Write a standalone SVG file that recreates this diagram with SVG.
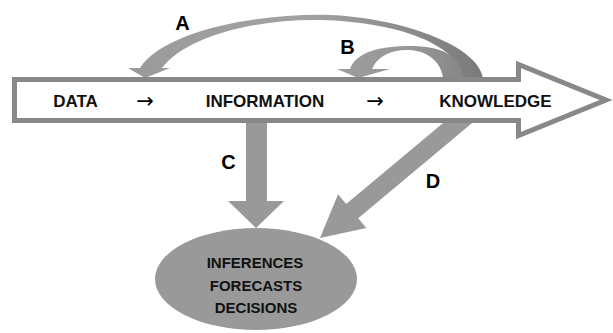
<svg xmlns="http://www.w3.org/2000/svg" width="613" height="333" viewBox="0 0 613 333">
  <style>
    .flow-text { font-family: "Liberation Sans", Arial, sans-serif; font-weight: bold; font-size: 17px; fill: #111; text-anchor: middle; }
    .step { font-family: "DejaVu Sans", sans-serif; font-size: 21px; fill: #000; text-anchor: middle; }
    .out-text { font-family: "Liberation Sans", Arial, sans-serif; font-weight: bold; font-size: 15px; fill: #111; text-anchor: middle; }
    .label { font-family: "Liberation Sans", Arial, sans-serif; font-weight: bold; font-size: 20px; fill: #000; text-anchor: middle; }
    .band { fill: #999999; }
  </style>
  <defs>
    <linearGradient id="shadeA" gradientUnits="userSpaceOnUse" x1="128" y1="0" x2="484" y2="0">
      <stop offset="0" stop-color="#9a9a9a"/>
      <stop offset="0.5" stop-color="#a2a2a2"/>
      <stop offset="0.78" stop-color="#8c8c8c"/>
      <stop offset="1" stop-color="#7a7a7a"/>
    </linearGradient>
    <linearGradient id="shadeB" gradientUnits="userSpaceOnUse" x1="337" y1="0" x2="464" y2="0">
      <stop offset="0" stop-color="#9c9c9c"/>
      <stop offset="0.55" stop-color="#989898"/>
      <stop offset="1" stop-color="#868686"/>
    </linearGradient>
  </defs>

  <!-- connectors: feedback loops A, B and outputs C, D -->
  <g id="connectors">
    <path id="loop-a" fill="url(#shadeA)" d="M140,68 C165,30 260,13 330,15 C400,18 478,45 483,78 L463,78 C458,45 400,22 320,20 C250,19 185,38 162,68 L170,68 L145,78 L128,68 Z"/>
    <path id="loop-b" fill="url(#shadeB)" d="M350,69 C356,52 380,46 410,46 C440,46 462,55 463,78 L443,78 C441,60 425,50 407,50 C390,50 377,57 372,69 L390,69 L358,78 L337,69 Z"/>
    <polygon id="out-c" class="band" points="246,115 267,115 267,201 284,201 256,228 228,201 246,201"/>
    <polygon id="out-d" class="band" points="452.7,115 481.7,115 358.2,218.2 366.3,228 320,238 338.1,194.2 346.2,204"/>
    <text class="label" x="182.5" y="30">A</text>
    <text class="label" x="347.5" y="54">B</text>
    <text class="label" x="228.5" y="169">C</text>
    <text class="label" x="433" y="188">D</text>
  </g>

  <!-- main flow arrow -->
  <g id="flow">
    <polygon points="14.5,79.5 518.5,79.5 518.5,64.5 606,100 518.5,135.5 518.5,120.5 14.5,120.5" fill="#ffffff" stroke="#888888" stroke-width="5" stroke-linejoin="miter"/>
    <text class="flow-text" x="75.5" y="106.5">DATA</text>
    <text class="step" x="145" y="108">→</text>
    <text class="flow-text" x="265" y="106.5">INFORMATION</text>
    <text class="step" x="375" y="108">→</text>
    <text class="flow-text" x="495.5" y="106.5">KNOWLEDGE</text>
  </g>

  <!-- outcomes -->
  <g id="outcomes">
    <ellipse cx="256" cy="279" rx="101" ry="51" fill="#999999"/>
    <text class="out-text" x="255" y="268">INFERENCES</text>
    <text class="out-text" x="256" y="290.5">FORECASTS</text>
    <text class="out-text" x="256" y="313">DECISIONS</text>
  </g>
</svg>
